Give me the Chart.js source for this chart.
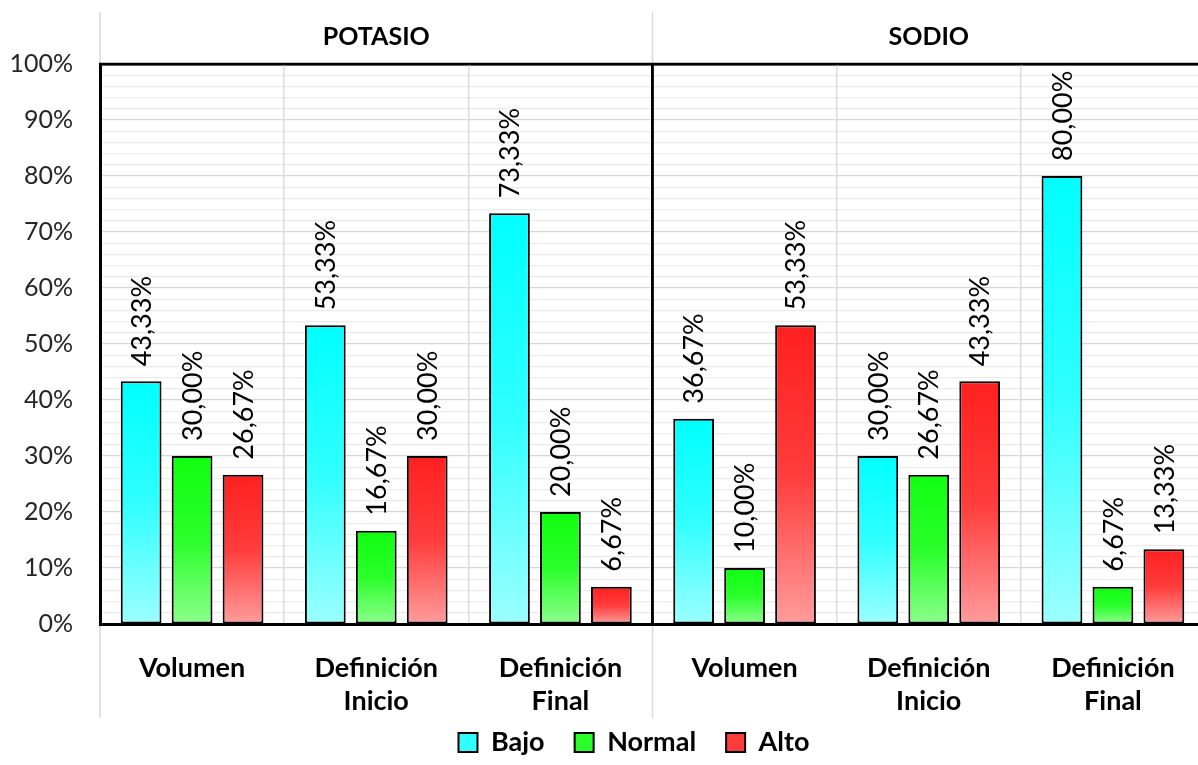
<!DOCTYPE html>
<html>
<head>
<meta charset="utf-8">
<script src="https://cdn.jsdelivr.net/npm/chart.js@4/dist/chart.umd.min.js"></script>
<style>
html,body{margin:0;padding:0;background:#fff;overflow:hidden;}
#wrap{width:1205px;height:765px;}
</style>
</head>
<body>
<div id="wrap"><canvas id="c" width="1205" height="765"></canvas></div>
<script>
const groups = ['POTASIO', 'SODIO'];
const categories = [['Volumen'], ['Definición', 'Inicio'], ['Definición', 'Final'], ['Volumen'], ['Definición', 'Inicio'], ['Definición', 'Final']];
const seriesNames = ['Bajo', 'Normal', 'Alto'];
const bajo = [43.33, 53.33, 73.33, 36.67, 30.00, 80.00];
const normal = [30.00, 16.67, 20.00, 10.00, 26.67, 6.67];
const alto = [26.67, 30.00, 6.67, 53.33, 43.33, 13.33];

const palette = [
  {top: '#00ffff', mid: '#30ffff', bot: '#9cffff'},
  {top: '#10ff10', mid: '#2aff2a', bot: '#8cff8c'},
  {top: '#ff2020', mid: '#ff3c3c', bot: '#ff9c9c'}
];

function grad(p) {
  return function(ctx) {
    if (ctx.type !== 'data') return p.top;
    const ch = ctx.chart;
    const ys = ch.scales.y;
    if (!ys || !ch.chartArea) return p.top;
    const t = ys.getPixelForValue(ctx.raw);
    const b = ys.getPixelForValue(0);
    if (!isFinite(t) || !isFinite(b) || b - t < 1) return p.top;
    const g = ch.ctx.createLinearGradient(0, t, 0, b);
    g.addColorStop(0, p.top);
    g.addColorStop(0.5, p.mid);
    g.addColorStop(1, p.bot);
    return g;
  };
}

const fmt = v => v.toFixed(2).replace('.', ',') + '%';

const decor = {
  id: 'decor',
  afterLayout(chart) {
    const lg = chart.legend;
    if (lg) {
      lg.left = 63;
      lg.top -= 19;
    }
  },
  afterDatasetsDraw(chart) {
    const ctx = chart.ctx;
    const ca = chart.chartArea;
    const xs = chart.scales.x;
    const half = (xs.getPixelForValue(1) - xs.getPixelForValue(0)) / 2;
    const sep = xs.getPixelForValue(2) + half;
    ctx.save();
    // light grey extensions
    ctx.strokeStyle = '#d9d9d9';
    ctx.lineWidth = 1.5;
    [ca.left, sep].forEach(x => {
      ctx.beginPath();
      ctx.moveTo(x, 12); ctx.lineTo(x, ca.top);
      ctx.moveTo(x, ca.bottom + 2); ctx.lineTo(x, 718);
      ctx.stroke();
    });
    // group separator
    ctx.strokeStyle = '#000';
    ctx.lineWidth = 2.5;
    ctx.beginPath();
    ctx.moveTo(sep, ca.top); ctx.lineTo(sep, ca.bottom + 2);
    ctx.stroke();
    // top border
    ctx.beginPath();
    ctx.moveTo(ca.left - 1, ca.top); ctx.lineTo(ca.right, ca.top);
    ctx.stroke();
    // group headers
    ctx.fillStyle = '#000';
    ctx.font = 'bold 25px Lato';
    ctx.textAlign = 'center';
    ctx.textBaseline = 'middle';
    ctx.fillText(groups[0], (ca.left + sep) / 2, 37);
    ctx.fillText(groups[1], (sep + ca.right) / 2, 37);
    // data labels
    ctx.font = '27px Lato';
    ctx.textAlign = 'left';
    ctx.textBaseline = 'middle';
    chart.data.datasets.forEach((ds, di) => {
      const meta = chart.getDatasetMeta(di);
      meta.data.forEach((el, i) => {
        ctx.save();
        ctx.translate(el.x, el.y - 15);
        ctx.rotate(-Math.PI / 2);
        ctx.fillText(fmt(ds.data[i]), 0, 1);
        ctx.restore();
      });
    });
    ctx.restore();
  }
};

new Chart(document.getElementById('c'), {
  type: 'bar',
  data: {
    labels: categories,
    datasets: [
      {label: seriesNames[0], data: bajo, backgroundColor: grad(palette[0])},
      {label: seriesNames[1], data: normal, backgroundColor: grad(palette[1])},
      {label: seriesNames[2], data: alto, backgroundColor: grad(palette[2])}
    ]
  },
  options: {
    responsive: false,
    devicePixelRatio: 1,
    animation: false,
    layout: {padding: {top: 64, left: 0, right: 0, bottom: 0}},
    datasets: {
      bar: {
        categoryPercentage: 0.83,
        barPercentage: 0.8,
        borderColor: '#000',
        borderWidth: 2,
        borderSkipped: false
      }
    },
    scales: {
      y: {
        min: 0, max: 100,
        afterFit(s) { s.width = 100; },
        ticks: {
          stepSize: 2,
          autoSkip: false,
          padding: 27,
          color: '#262626',
          font: {family: 'Lato', size: 25},
          callback: v => (v % 10 === 0 ? v + '%' : '')
        },
        grid: {
          drawTicks: false,
          color: c => (c.tick && c.tick.value === 100 ? '#000' : (c.tick && c.tick.value % 10 === 0 ? '#d6d6d6' : '#ececec')),
          lineWidth: c => (c.tick && c.tick.value === 100 ? 2.5 : 1.2)
        },
        border: {color: '#000', width: 3}
      },
      x: {
        afterFit(s) { s.height = 94; },
        ticks: {
          padding: 28,
          color: '#000',
          maxRotation: 0,
          autoSkip: false,
          font: {family: 'Lato', size: 27, weight: 'bold', lineHeight: 1.22}
        },
        grid: {
          drawTicks: false,
          color: c => (c.index === 3 ? '#000' : '#dcdcdc'),
          lineWidth: c => (c.index === 3 ? 2.5 : 1.5)
        },
        border: {color: '#000', width: 3}
      }
    },
    plugins: {
      legend: {
        position: 'bottom',
        maxHeight: 47,
        labels: {
          color: '#000',
          boxWidth: 19,
          boxHeight: 19,
          padding: 30,
          font: {family: 'Lato', size: 27, weight: 'bold'},
          generateLabels: chart => Chart.defaults.plugins.legend.labels.generateLabels(chart).map((l, i) => Object.assign(l, {fillStyle: palette[i].mid, strokeStyle: '#000', lineWidth: 2}))
        }
      },
      tooltip: {enabled: false}
    }
  },
  plugins: [decor]
});
</script>
</body>
</html>
